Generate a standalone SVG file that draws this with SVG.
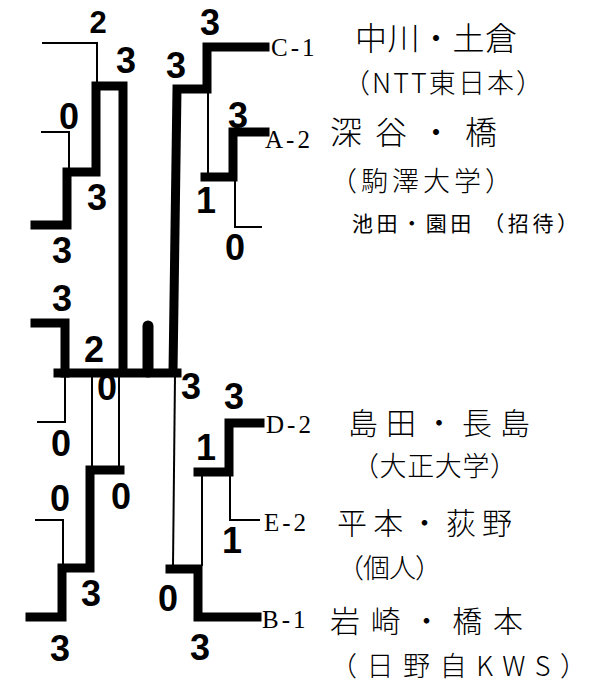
<svg xmlns="http://www.w3.org/2000/svg" width="596" height="692" viewBox="0 0 596 692">
<style>
.thick{stroke:#000;stroke-width:9;fill:none;stroke-linecap:square;stroke-linejoin:miter}
.thin{stroke:#000;stroke-width:2;fill:none}
.score{font-family:"Liberation Sans",Arial,sans-serif;font-weight:bold;font-size:36px;text-anchor:middle;fill:#000}
.code{font-family:"Liberation Serif","Times New Roman",serif;font-size:25px;letter-spacing:3px;fill:#000}
.hand{font-family:"Noto Sans CJK JP","Noto Sans CJK SC",sans-serif;font-size:30px;font-weight:300;fill:#000}
.paren{font-family:"Noto Sans CJK JP","Noto Sans CJK SC",sans-serif;font-size:27px;font-weight:300;fill:#000}
.print{font-family:"Noto Sans CJK JP","Noto Sans CJK SC",sans-serif;font-size:21px;fill:#000}
</style>
<rect width="596" height="692" fill="#fff"/>
<g id="connectors">
  <path class="thin" d="M42,43 H97 V83"/>
  <path class="thin" d="M41,132 H69 V168"/>
  <path class="thick" d="M35,225 H67 V172 H96 V86 H123 V372"/>
  <path class="thick" d="M265,47 H207 V89 H177 L173,372"/>
  <path class="thin" d="M208,89 V177"/>
  <path class="thick" d="M265,132 H233 V177 H205"/>
  <path class="thin" d="M262,227 H235 V177"/>
  <path class="thick" d="M58,373 H177"/>
  <path class="thick" d="M148,326 V372" style="stroke-width:11;stroke-linecap:round"/>
  <path class="thick" d="M35,323 H65 V373"/>
  <path class="thin" d="M37,422 H65 V376"/>
  <path class="thin" d="M92,376 V467"/>
  <path class="thin" d="M119,376 V467"/>
  <path class="thin" d="M35,520 H63 V566"/>
  <path class="thick" d="M30,617 H62 V568 H90 V470 H120"/>
  <path class="thin" d="M175,376 L173,566"/>
  <path class="thick" d="M257,617 H198 V569 H170"/>
  <path class="thin" d="M202,473 V566"/>
  <path class="thick" d="M260,423 H229 V472 H198"/>
  <path class="thin" d="M260,520 H230 V476"/>
</g>
<g id="scores">
  <text class="score" x="98" y="33" style="font-size:31px">2</text>
  <text class="score" x="126" y="73">3</text>
  <text class="score" x="176" y="78">3</text>
  <text class="score" x="210" y="35">3</text>
  <text class="score" x="69" y="129">0</text>
  <text class="score" x="97" y="210">3</text>
  <text class="score" x="238" y="128">3</text>
  <text class="score" x="206" y="213">1</text>
  <text class="score" x="235" y="260">0</text>
  <text class="score" x="62" y="263">3</text>
  <text class="score" x="62" y="311">3</text>
  <text class="score" x="94" y="362">2</text>
  <text class="score" x="107" y="400">0</text>
  <text class="score" x="191" y="399">3</text>
  <text class="score" x="234" y="409">3</text>
  <text class="score" x="61" y="456">0</text>
  <text class="score" x="206" y="460">1</text>
  <text class="score" x="60" y="511">0</text>
  <text class="score" x="121" y="509">0</text>
  <text class="score" x="232" y="553">1</text>
  <text class="score" x="91" y="606">3</text>
  <text class="score" x="168" y="611">0</text>
  <text class="score" x="60" y="661">3</text>
  <text class="score" x="200" y="660">3</text>
</g>
<g id="team-c1">
  <text class="code" x="271" y="56">C-1</text>
  <text class="hand" x="355" y="50" textLength="162" style="font-size:32px">中川・土倉</text>
  <text class="paren" x="343" y="93" textLength="200">（NTT東日本）</text>
</g>
<g id="team-a2">
  <text class="code" x="265" y="148">A-2</text>
  <text class="hand" x="330" y="144" textLength="167" style="font-size:32px">深谷・橋</text>
  <text class="paren" x="330" y="191" textLength="182">（駒澤大学）</text>
</g>
<g id="team-ikeda">
  <text class="print" x="352" y="231" textLength="226">池田・園田 （招待）</text>
</g>
<g id="team-d2">
  <text class="code" x="266" y="433">D-2</text>
  <text class="hand" x="348" y="434" textLength="182">島田・長島</text>
  <text class="paren" x="352" y="476" textLength="165">（大正大学）</text>
</g>
<g id="team-e2">
  <text class="code" x="264" y="531">E-2</text>
  <text class="hand" x="337" y="534" textLength="175">平本・荻野</text>
  <text class="paren" x="337" y="578" textLength="105">（個人）</text>
</g>
<g id="team-b1">
  <text class="code" x="262" y="628">B-1</text>
  <text class="hand" x="330" y="632" textLength="193">岩崎・橋本</text>
  <text class="paren" x="330" y="676" textLength="257">（日野自KWS）</text>
</g>
</svg>
